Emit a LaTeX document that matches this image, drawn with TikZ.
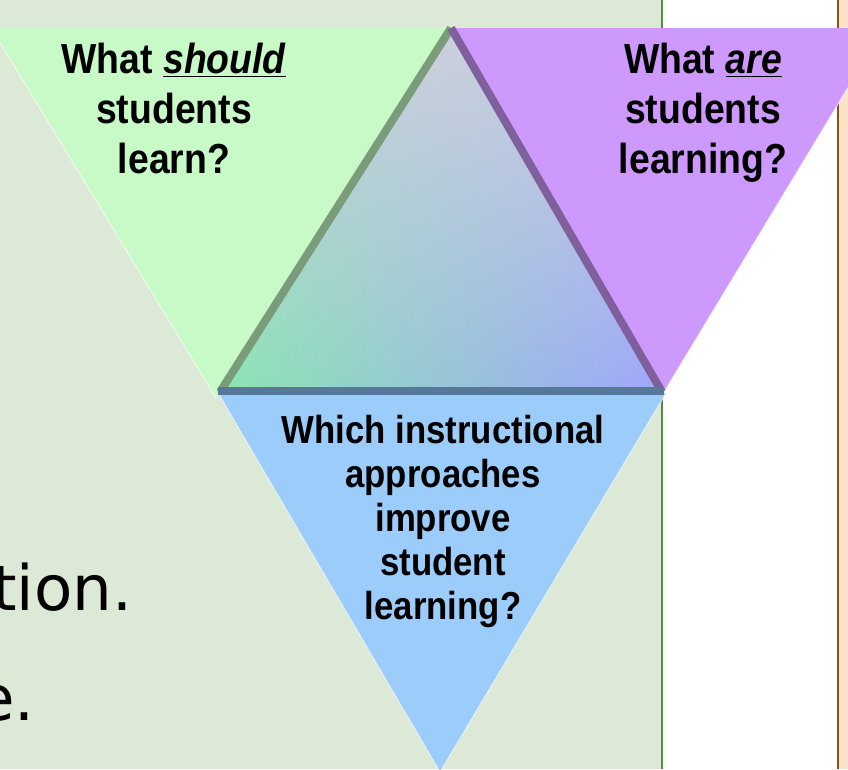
\documentclass[tikz,border=0pt]{standalone}
\usepackage{fontspec}
\usetikzlibrary{fadings}

\newfontfamily\labelfont[FakeStretch=0.89]{Liberation Sans}
\newfontfamily\slidefont{DejaVu Sans}

\definecolor{slidebg}{RGB}{220,233,214}
\definecolor{greenline}{RGB}{84,140,64}
\definecolor{brownline}{RGB}{140,80,24}
\definecolor{peach}{RGB}{253,226,202}
\definecolor{mint}{RGB}{200,250,200}
\definecolor{lilac}{RGB}{206,153,252}
\definecolor{skyblue}{RGB}{156,204,250}
\definecolor{edgegreen}{RGB}{122,156,122}
\definecolor{edgepurple}{RGB}{128,96,156}
\definecolor{edgeblue}{RGB}{86,120,154}
\definecolor{innergreen}{RGB}{140,230,178}
\definecolor{innerteal}{RGB}{130,212,218}
\definecolor{innerblue}{RGB}{160,166,252}
\definecolor{innertop}{RGB}{208,208,222}

% grey wash over the inner triangle, strong at the top
\tikzfading[name=graytop, top color=transparent!0, middle color=transparent!18, bottom color=transparent!100]

\tikzset{
  qlabel/.style={align=center, inner sep=0pt, font=\labelfont\bfseries\fontsize{31.5}{37.5}\selectfont},
  qlabelsmall/.style={qlabel, font=\labelfont\bfseries\fontsize{29.3}{33}\selectfont},
  slidetext/.style={inner sep=0pt, font=\slidefont\fontsize{47}{56}\selectfont},
  innerside/.style={line width=6pt, line cap=butt},
  halo/.style={white, opacity=0.6, line width=0.8pt}
}

\begin{document}
\begin{tikzpicture}[x=0.75pt, y=-0.75pt]
\useasboundingbox (0,0) rectangle (848,769);
\clip (0,0) rectangle (848,769);

% slide behind the picture
\fill[slidebg] (0,0) rectangle (661,769);
\fill[white] (661,0) rectangle (837,769);
\fill[peach] (837,0) rectangle (848,769);
\draw[greenline, line width=1.5pt] (662,0) -- (662,769);
\draw[brownline, line width=1.5pt] (838,0) -- (838,769);

\node[slidetext, anchor=base west] (tion) at (-8,610) {tion.};
\node[slidetext, anchor=base west] (edot) at (-24,720) {e.};

% corners
\coordinate (GL) at (-9,28);
\coordinate (T) at (451,28);
\coordinate (PR) at (884,28);
\coordinate (GB) at (216,398);
\coordinate (PB) at (664,392);
\coordinate (BL) at (220,392);
\coordinate (BR) at (662,392);
\coordinate (SL) at (218,393);
\coordinate (SR) at (666,393);
\coordinate (B) at (440,772);

% outer triangles
\fill[mint] (GL) -- (T) -- (GB) -- cycle;
\fill[lilac] (T) -- (PR) -- (PB) -- cycle;
\fill[skyblue] (SL) -- (SR) -- (B) -- cycle;
\draw[halo] (GL) -- (GB);
\draw[halo] (PR) -- (PB);
\draw[halo] (SL) -- (B) -- (SR);

% inner triangle
\shade[left color=innergreen, middle color=innerteal, right color=innerblue]
  (T) -- (BR) -- (BL) -- cycle;
\fill[innertop, path fading=graytop, fill opacity=0.95] (T) -- (BR) -- (BL) -- cycle;
\draw[innerside, edgegreen] (T) -- (BL);
\draw[innerside, edgepurple] (T) -- (BR);
\draw[innerside, edgeblue] (218,391) -- (664,391);

% questions
\node[qlabel, anchor=north] (should) at (174,43) {What \underline{\textit{should}}\\students\\learn?};
\node[qlabel, anchor=north] (are) at (703,43) {What \underline{\textit{are}}\\students\\learning?};
\node[qlabelsmall, anchor=north] (which) at (443,415) {Which instructional\\approaches\\improve\\student\\learning?};

\end{tikzpicture}
\end{document}
